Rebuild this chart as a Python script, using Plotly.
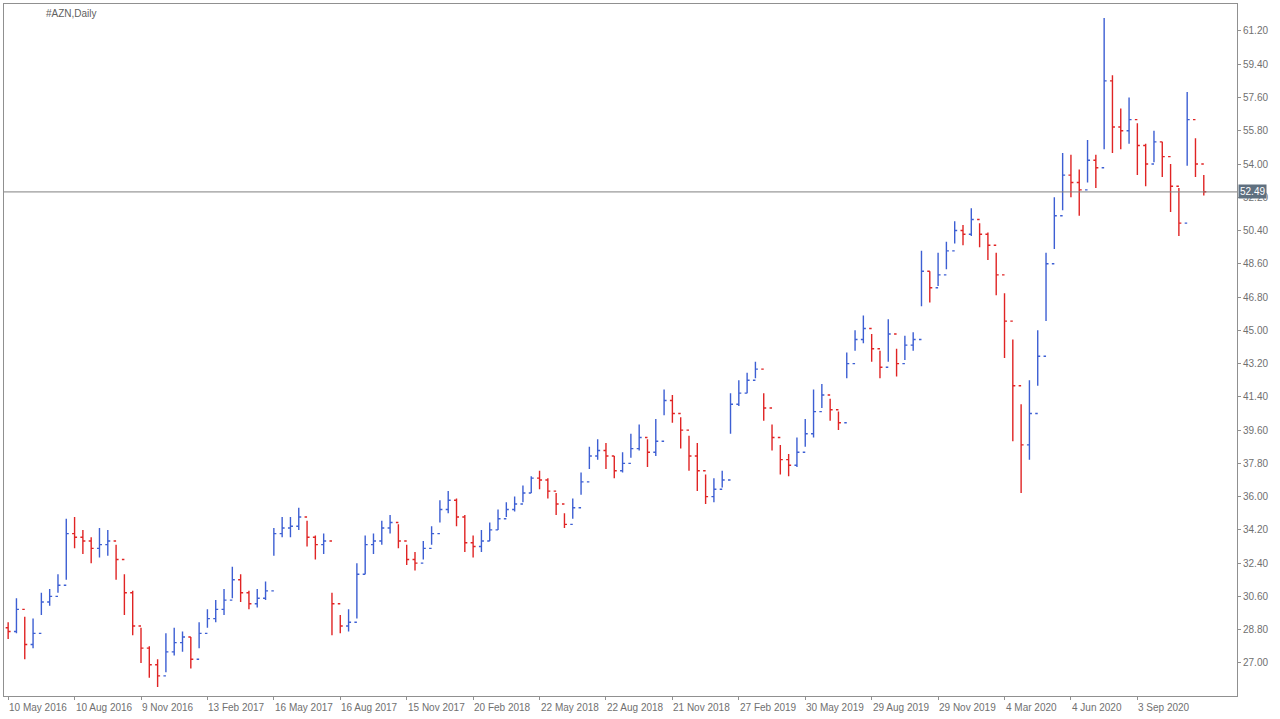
import plotly.graph_objects as go

# bar closes / highs / lows (roughly two-week bars)
close = [28.7, 29.9, 28.0, 28.6, 30.3, 30.6, 31.2, 34.0,
         33.8, 33.6, 33.2, 33.4, 33.6, 32.6, 30.8, 29.0,
         27.8, 26.9, 26.3, 27.6, 28.1, 28.4, 27.2, 28.6,
         29.4, 29.9, 30.4, 31.5, 30.8, 30.2, 30.5, 30.9,
         34.0, 34.3, 34.4, 34.9, 33.8, 33.4, 33.6, 30.2,
         29.0, 29.2, 31.8, 33.4, 33.6, 34.3, 34.6, 33.6,
         32.6, 32.4, 33.2, 34.0, 35.3, 35.8, 34.9, 33.5,
         33.3, 33.6, 34.2, 34.8, 35.3, 35.6, 36.2, 37.0,
         36.9, 36.3, 35.6, 34.5, 35.4, 36.8, 38.2, 38.5,
         38.2, 37.4, 37.8, 38.6, 39.2, 38.4, 39.0, 41.2,
         40.5, 39.6, 38.2, 37.4, 36.0, 36.4, 36.9, 41.0,
         41.6, 42.3, 42.9, 40.8, 39.2, 38.0, 37.7, 38.4,
         39.4, 40.6, 41.5, 40.7, 40.0, 43.2, 44.5, 45.1,
         44.0, 43.0, 44.8, 43.2, 44.2, 44.5, 48.2, 47.3,
         48.0, 49.3, 50.4, 50.2, 51.0, 50.2, 49.6, 48.0,
         45.5, 42.0, 38.8, 40.5, 43.6, 48.6, 51.2, 53.4,
         53.0, 52.6, 54.2, 53.8, 58.5, 56.0, 55.8, 56.4,
         55.0, 54.0, 55.2, 54.4, 52.8, 50.8, 56.4, 54.0, 52.5]
high = [29.2, 30.5, 29.5, 29.4, 30.8, 31.0, 31.8, 34.8,
        34.9, 34.2, 33.8, 34.3, 34.2, 33.4, 31.8, 30.9,
        28.9, 27.9, 27.2, 28.6, 28.9, 28.7, 28.4, 29.2,
        29.9, 30.4, 31.0, 32.2, 31.8, 30.9, 31.0, 31.4,
        34.3, 34.9, 34.9, 35.4, 34.7, 33.9, 34.0, 30.8,
        29.6, 29.9, 32.4, 33.9, 34.0, 34.7, 35.0, 34.5,
        33.4, 33.0, 33.6, 34.4, 35.8, 36.3, 35.9, 35.0,
        33.9, 34.2, 34.6, 35.3, 35.7, 36.0, 36.6, 37.1,
        37.4, 37.0, 36.2, 35.1, 35.9, 37.3, 38.7, 39.1,
        38.9, 38.2, 38.4, 39.4, 39.9, 39.1, 40.2, 41.8,
        41.5, 40.3, 39.3, 38.9, 37.2, 37.0, 37.4, 41.6,
        42.3, 42.7, 43.3, 41.6, 39.9, 38.8, 38.3, 39.2,
        40.2, 41.8, 42.1, 41.3, 40.6, 43.8, 45.0, 45.8,
        44.8, 43.9, 45.6, 44.0, 44.7, 44.9, 49.3, 48.2,
        49.2, 49.8, 50.9, 50.7, 51.6, 50.8, 50.3, 49.2,
        47.0, 44.5, 41.0, 42.3, 45.0, 49.2, 52.2, 54.6,
        54.5, 53.7, 55.3, 54.5, 61.9, 58.8, 57.0, 57.6,
        56.2, 55.1, 55.8, 55.2, 54.0, 52.7, 57.9, 55.4, 53.4]
low = [28.3, 28.6, 27.2, 27.8, 29.6, 30.1, 30.8, 31.5,
       33.2, 32.9, 32.4, 32.7, 32.8, 31.5, 29.6, 28.5,
       27.0, 26.2, 25.7, 26.5, 27.4, 27.6, 26.7, 27.8,
       28.9, 29.2, 29.6, 30.5, 30.3, 29.9, 30.0, 30.4,
       32.8, 33.8, 33.8, 34.2, 33.3, 32.6, 32.9, 28.5,
       28.6, 28.7, 29.4, 31.8, 32.9, 33.4, 34.0, 33.2,
       32.3, 32.0, 32.6, 33.4, 34.6, 35.1, 34.4, 33.0,
       32.7, 33.0, 33.6, 34.2, 34.9, 35.2, 35.7, 36.2,
       36.4, 35.9, 35.0, 34.3, 34.8, 36.1, 37.5, 38.0,
       37.5, 37.0, 37.3, 38.1, 38.5, 37.6, 38.2, 40.4,
       40.0, 38.6, 37.4, 36.3, 35.6, 35.7, 36.5, 39.4,
       40.9, 41.6, 42.4, 40.1, 38.5, 37.2, 37.1, 37.6,
       38.7, 39.2, 40.8, 40.1, 39.6, 42.4, 43.9, 44.3,
       43.3, 42.4, 43.3, 42.5, 43.4, 43.9, 46.3, 46.5,
       47.4, 48.3, 49.7, 49.6, 50.1, 49.5, 48.8, 46.9,
       43.5, 39.0, 36.2, 38.0, 42.0, 45.5, 49.4, 51.5,
       52.2, 51.2, 53.0, 52.7, 54.8, 54.6, 54.8, 55.1,
       53.4, 52.8, 54.1, 53.3, 51.4, 50.1, 53.9, 53.3, 52.3]
open_ = [28.9] + close[:-1]

date_labels = ["10 May 2016", "10 Aug 2016", "9 Nov 2016", "13 Feb 2017", "16 May 2017",
               "16 Aug 2017", "15 Nov 2017", "20 Feb 2018", "22 May 2018", "22 Aug 2018",
               "21 Nov 2018", "27 Feb 2019", "30 May 2019", "29 Aug 2019", "29 Nov 2019",
               "4 Mar 2020", "4 Jun 2020", "3 Sep 2020"]
price_ticks = [27.00, 28.80, 30.60, 32.40, 34.20, 36.00, 37.80, 39.60, 41.40, 43.20,
               45.00, 46.80, 48.60, 50.40, 52.20, 54.00, 55.80, 57.60, 59.40, 61.20]
last_price = 52.49

bars_per_label = 8
x = list(range(len(close)))
label_pos = [i * bars_per_label for i in range(len(date_labels))]

fig = go.Figure(go.Ohlc(
    x=x, open=open_, high=high, low=low, close=close,
    increasing=dict(line=dict(color="#3d5fd3", width=1.4)),
    decreasing=dict(line=dict(color="#e02424", width=1.4)),
    tickwidth=0.3, showlegend=False, hoverinfo="skip",
))

axis_font = dict(size=10, color="#707070", family="Liberation Sans")

# date labels sit to the right of their tick, MT4 style
for pos, lab in zip(label_pos, date_labels):
    fig.add_annotation(x=pos, y=0, yref="paper", text=lab, showarrow=False,
                       xanchor="left", yanchor="top", yshift=-4, xshift=-1, font=axis_font)

fig.add_hline(y=last_price, line=dict(color="#808080", width=1))
fig.add_annotation(x=1, xref="paper", xanchor="left", y=last_price, text="%.2f" % last_price,
                   showarrow=False, bgcolor="#5f7080", font=dict(color="white", size=10,
                   family="Liberation Sans"), borderpad=1, xshift=1)
fig.add_annotation(x=0, xref="paper", y=1, yref="paper", xanchor="left", yanchor="top",
                   text="#AZN,Daily", showarrow=False, xshift=40, yshift=-2,
                   font=dict(size=10, color="#606060", family="Liberation Sans"))

fig.update_layout(
    width=1280, height=719,
    margin=dict(l=4, r=43, t=4, b=23, autoexpand=False),
    plot_bgcolor="white", paper_bgcolor="white",
    xaxis=dict(range=[-0.5, 148.0], rangeslider=dict(visible=False), showgrid=False,
               tickvals=label_pos, showticklabels=False, ticks="outside", ticklen=3,
               tickcolor="#909090", showline=True, linecolor="#909090", mirror=True,
               zeroline=False, automargin=False),
    yaxis=dict(range=[25.21, 62.66], side="right", showgrid=False, tickvals=price_ticks,
               ticktext=["%.2f" % v for v in price_ticks], ticks="outside", ticklen=3,
               tickcolor="#909090", showline=True, linecolor="#909090", mirror=True,
               tickfont=axis_font, zeroline=False, automargin=False),
)

fig.write_html("out.html", config={"displayModeBar": False},
               post_script="document.body.style.margin='0';")
